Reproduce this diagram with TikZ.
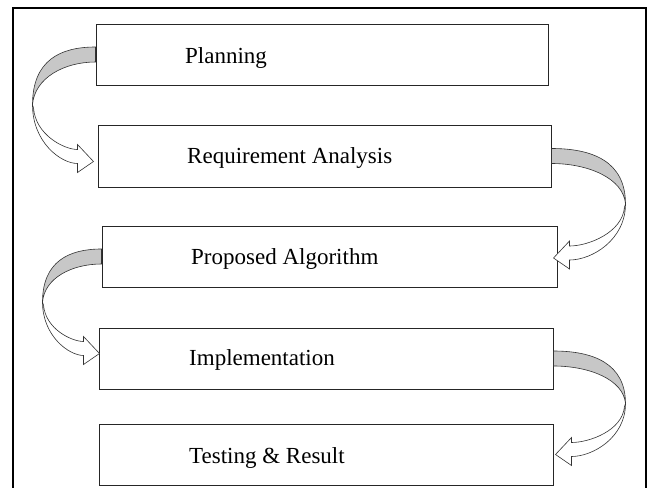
\documentclass[tikz,border=0pt]{standalone}
\usepackage{fontspec}
\setmainfont{Liberation Serif}
\usetikzlibrary{calc}

\tikzset{
  stagebox/.style={draw=black!85, line width=1pt, fill=white, rectangle, inner sep=0pt},
  stagetext/.style={anchor=base west, inner sep=0pt, font=\fontsize{23}{27}\selectfont},
  ribbonback/.style={draw=black!80, line width=0.6pt, fill=black!22},
  ribbonfront/.style={draw=black!80, line width=0.6pt, fill=white},
}

% Curved ribbon arrow: #1 = start point, #2 = +1 (loops right) or -1 (loops left),
% #3 = loop width W, #4 = drop H from start to tip
\newcommand{\ribbonarrow}[4]{%
  \begin{scope}[shift={#1}, xscale=#2]
    % shaded back of the ribbon
    \path[ribbonback] (0,-7.5) .. controls ({0.55*#3},-7.5) and (#3,{0.05*#4}) .. (#3,{0.47*#4})
      .. controls ({#3-2},{0.22*#4}) and ({0.5*#3},7.5) .. (0,7.5) -- cycle;
    % white front with the arrow head
    \path[ribbonfront] (#3,{0.47*#4})
      .. controls (#3,{0.82*#4}) and ({0.55*#3},{#4+2}) .. (18,{#4+2})
      -- (18,{#4+11}) -- (2,#4) -- (18,{#4-17}) -- (18,{#4-12})
      .. controls ({0.5*#3},{#4-12}) and ({#3-3},{0.75*#4}) .. ({#3-1},{0.5*#4}) -- cycle;
  \end{scope}}

\begin{document}
\begin{tikzpicture}[x=1pt, y=-1pt]
  \useasboundingbox (0,0) rectangle (649,488);
  % outer frame, open at the bottom
  \draw[line width=1.3pt] (13,495) -- (13,8) -- (646,8) -- (646,495);

  % stages
  \node[stagebox, minimum width=452pt, minimum height=61pt] (plan) at (322,54.5) {};
  \node[stagebox, minimum width=453pt, minimum height=62pt] (req)  at (324.5,156) {};
  \node[stagebox, minimum width=455pt, minimum height=61pt] (prop) at (329.5,256.5) {};
  \node[stagebox, minimum width=454pt, minimum height=61pt] (impl) at (326,358.5) {};
  \node[stagebox, minimum width=454pt, minimum height=61pt] (test) at (326,454.5) {};

  \node[stagetext] (tplan) at (185,63)  {Planning};
  \node[stagetext] (treq)  at (187,163) {Requirement Analysis};
  \node[stagetext] (tprop) at (191,264) {Proposed Algorithm};
  \node[stagetext] (timpl) at (189,365) {Implementation};
  \node[stagetext] (ttest) at (189,463) {Testing \& Result};

  % curved arrows between consecutive stages
  \ribbonarrow{(plan.west)}{-1}{63}{107}
  \ribbonarrow{(req.east)}{1}{74}{102}
  \ribbonarrow{(prop.west)}{-1}{59}{97}
  \ribbonarrow{(impl.east)}{1}{72}{96}
\end{tikzpicture}
\end{document}
